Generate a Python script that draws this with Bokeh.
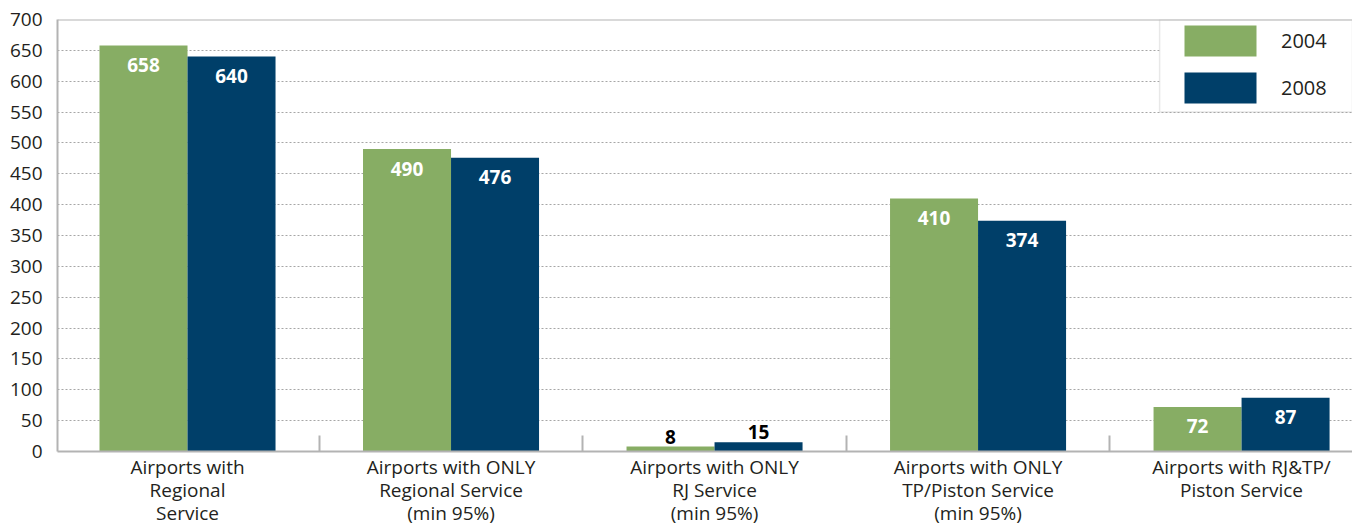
from bokeh.plotting import figure
from bokeh.models import Range1d, FixedTicker, Span, BoxAnnotation, ColumnDataSource
from bokeh.core.properties import value
from bokeh.embed import file_html
from bokeh.resources import INLINE

categories = [
    "Airports with\nRegional\nService",
    "Airports with ONLY\nRegional Service\n(min 95%)",
    "Airports with ONLY\nRJ Service\n(min 95%)",
    "Airports with ONLY\nTP/Piston Service\n(min 95%)",
    "Airports with RJ&TP/\nPiston Service",
]
series_names = ["2004", "2008"]
values_2004 = [658, 490, 8, 410, 72]
values_2008 = [640, 476, 15, 374, 87]
y_ticks = list(range(0, 701, 50))

GREEN = "#87ad64"
BLUE = "#003f69"
GRAY = "#b3b3b3"
TXT = "#231f20"
FONT = "Open Sans"

W, H = 1352, 529
BL, BT, BB = 57, 19, 76
frame_h = H - BT - BB
units_per_px = 700 / frame_h

p = figure(width=W, height=H, output_backend="svg", toolbar_location=None,
           x_range=Range1d(0.0066, 4.921), y_range=Range1d(0, 700),
           min_border_left=BL, min_border_right=0, min_border_top=BT, min_border_bottom=BB)
p.outline_line_color = None
p.background_fill_color = "white"

# legend box
box = BoxAnnotation(left=4.189, bottom=550, top=700, fill_color="white", fill_alpha=1.0,
                    line_color=GRAY, line_width=1.5)
p.add_layout(box)

bw = 0.334
xs = [i + 0.5 for i in range(len(categories))]
src1 = ColumnDataSource(dict(x=[x - bw / 2 for x in xs], top=values_2004))
src2 = ColumnDataSource(dict(x=[x + bw / 2 for x in xs], top=values_2008))
p.vbar(x="x", top="top", width=bw, source=src1, fill_color=GREEN, line_color=None,
       legend_label=series_names[0])
p.vbar(x="x", top="top", width=bw, source=src2, fill_color=BLUE, line_color=None,
       legend_label=series_names[1])

# value labels
for vals, off in ((values_2004, -bw / 2), (values_2008, bw / 2)):
    for i, v in enumerate(vals):
        if v >= 50:
            p.text(x=[xs[i] + off], y=[v - 19.5 * units_per_px], text=[str(v)],
                   text_color="white", text_font=value(FONT), text_font_style="bold",
                   text_font_size="19px", text_align="center", text_baseline="middle")
        else:
            p.text(x=[xs[i] + off], y=[v + 3 * units_per_px], text=[str(v)],
                   text_color="black", text_font=value(FONT), text_font_style="bold",
                   text_font_size="19px", text_align="center", text_baseline="bottom")

# top frame line
p.add_layout(Span(location=700, dimension="width", line_color=GRAY, line_width=2))

# axes
p.yaxis.ticker = FixedTicker(ticks=y_ticks)
p.yaxis.major_tick_line_color = None
p.yaxis.minor_tick_line_color = None
p.yaxis.axis_line_color = GRAY
p.yaxis.axis_line_width = 2
p.yaxis.major_label_text_font = FONT
p.yaxis.major_label_text_font_size = "19px"
p.yaxis.major_label_text_color = TXT
p.yaxis.major_label_standoff = 9

p.xaxis.ticker = FixedTicker(ticks=xs, minor_ticks=[1, 2, 3, 4])
p.xaxis.major_label_overrides = {x: c for x, c in zip(xs, categories)}
p.xaxis.major_tick_line_color = None
p.xaxis.major_tick_in = 0
p.xaxis.major_tick_out = 0
p.xaxis.minor_tick_in = 16
p.xaxis.minor_tick_out = 0
p.xaxis.minor_tick_line_color = GRAY
p.xaxis.minor_tick_line_width = 2
p.xaxis.axis_line_color = GRAY
p.xaxis.axis_line_width = 2
p.xaxis.major_label_text_font = FONT
p.xaxis.major_label_text_font_size = "19px"
p.xaxis.major_label_text_color = TXT
p.xaxis.major_label_text_line_height = 0.9
p.xaxis.major_label_standoff = 2

p.xgrid.grid_line_color = None
p.ygrid.ticker = FixedTicker(ticks=y_ticks[1:-1])
p.ygrid.grid_line_color = "#a6a6a6"
p.ygrid.grid_line_width = 1
p.ygrid.grid_line_dash = "2 2"

lg = p.legend[0]
lg.location = (1118, 344)
lg.border_line_color = None
lg.background_fill_alpha = 0
lg.margin = 0
lg.padding = 5
lg.spacing = 8
lg.glyph_width = 90
lg.glyph_height = 39
lg.label_standoff = 16
lg.label_text_font = FONT
lg.label_text_font_size = "20px"
lg.label_text_color = TXT

open("out.html", "w").write(file_html(p, INLINE))
